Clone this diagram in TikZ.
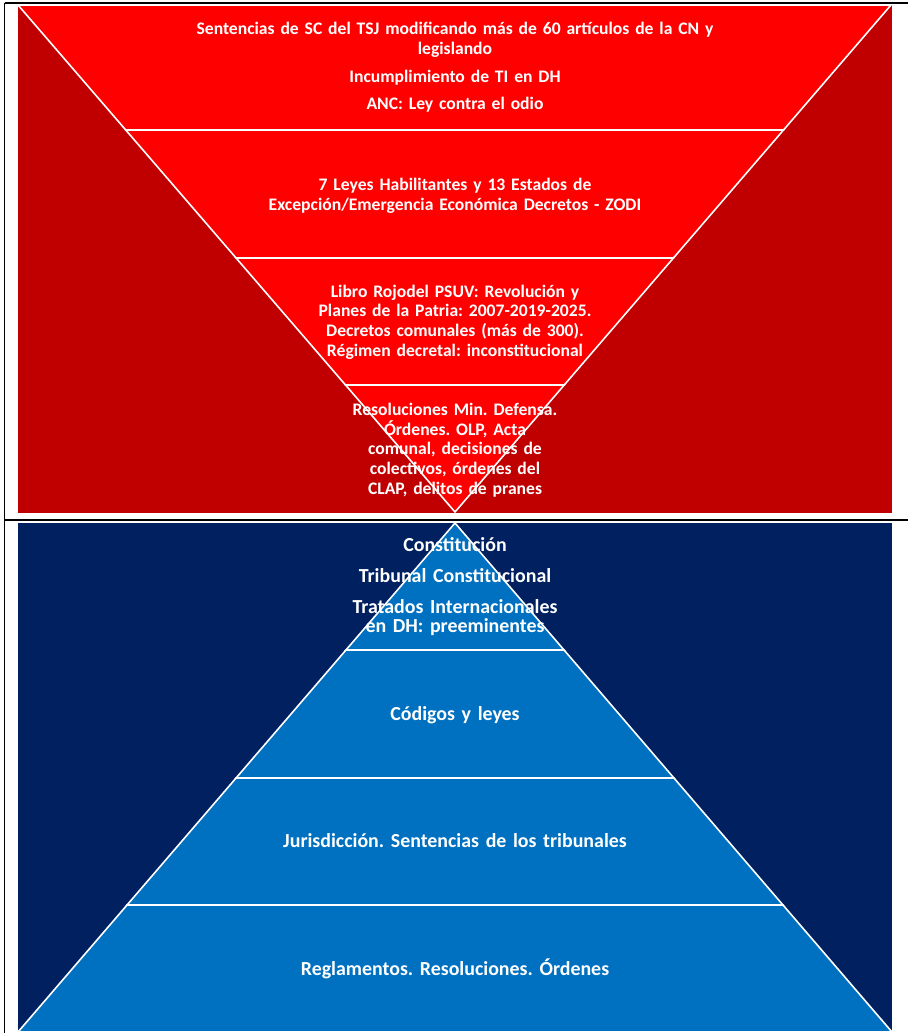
\documentclass[tikz,border=0pt]{standalone}
\usepackage{fontspec}
\setmainfont{Carlito}
\usetikzlibrary{calc}
\definecolor{redbg}{HTML}{C00000}
\definecolor{redband}{HTML}{FF0000}
\definecolor{bluebg}{HTML}{002060}
\definecolor{blueband}{HTML}{0070C0}
\tikzset{
  band/.style={line width=1.6pt, draw=white, line join=miter},
  frame/.style={line width=1.5pt, draw=black},
  lbl/.style={text=white, font=\frenchspacing\bfseries\fontsize{17.6}{19.7}\selectfont, align=center, text width=600pt, anchor=base, inner sep=0pt},
  blbl/.style={lbl, font=\frenchspacing\bfseries\fontsize{19.9}{19.6}\selectfont}
}
\begin{document}
\begin{tikzpicture}[x=1pt,y=-1pt]
\useasboundingbox (0,0) rectangle (908,1033);
\fill[white] (0,0) rectangle (908,1033);
% frame
\draw[frame] (4.5,3) -- (908,3);
\draw[frame] (4.5,3) -- (4.5,1033);
\draw[frame] (4.5,520) -- (908,520);
% ---------- red part ----------
\fill[redbg] (18,5) rectangle (892,513);
\coordinate (rtl) at (18,5);
\coordinate (rtr) at (891,5);
\coordinate (rap) at (455,512);
\coordinate (rl1) at ($(rtl)!{125/507}!(rap)$);
\coordinate (rr1) at ($(rtr)!{125/507}!(rap)$);
\coordinate (rl2) at ($(rtl)!{253/507}!(rap)$);
\coordinate (rr2) at ($(rtr)!{253/507}!(rap)$);
\coordinate (rl3) at ($(rtl)!{380/507}!(rap)$);
\coordinate (rr3) at ($(rtr)!{380/507}!(rap)$);
\filldraw[band, fill=redband] (rtl) -- (rtr) -- (rr1) -- (rl1) -- cycle;
\filldraw[band, fill=redband] (rl1) -- (rr1) -- (rr2) -- (rl2) -- cycle;
\filldraw[band, fill=redband] (rl2) -- (rr2) -- (rr3) -- (rl3) -- cycle;
\filldraw[band, fill=redband] (rl3) -- (rr3) -- (rap) -- cycle;
% ---------- blue part ----------
\fill[bluebg] (18,523) rectangle (892,1032);
\coordinate (bap) at (455,523);
\coordinate (bbl) at (18,1032);
\coordinate (bbr) at (892,1032);
\coordinate (bl1) at ($(bap)!{127/509}!(bbl)$);
\coordinate (br1) at ($(bap)!{127/509}!(bbr)$);
\coordinate (bl2) at ($(bap)!{255/509}!(bbl)$);
\coordinate (br2) at ($(bap)!{255/509}!(bbr)$);
\coordinate (bl3) at ($(bap)!{382/509}!(bbl)$);
\coordinate (br3) at ($(bap)!{382/509}!(bbr)$);
\filldraw[band, fill=blueband] (bap) -- (br1) -- (bl1) -- cycle;
\filldraw[band, fill=blueband] (bl1) -- (br1) -- (br2) -- (bl2) -- cycle;
\filldraw[band, fill=blueband] (bl2) -- (br2) -- (br3) -- (bl3) -- cycle;
\filldraw[band, fill=blueband] (bl3) -- (br3) -- (bbr) -- (bbl) -- cycle;
% ---------- texts ----------
\node[lbl] (t1a) at (455,35) {Sentencias de SC del TSJ modificando más de 60 artículos de la CN y\\legislando};
\node[lbl] (t1b) at (455,82) {Incumplimiento de TI en DH};
\node[lbl] (t1c) at (455,109.5) {ANC: Ley contra el odio};
\node[lbl] (t2) at (455,190.5) {7 Leyes Habilitantes y 13 Estados de\\Excepción/Emergencia Económica Decretos - ZODI};
\node[lbl] (t3) at (455,297) {Libro Rojodel PSUV: Revolución y\\Planes de la Patria: 2007-2019-2025.\\Decretos comunales (más de 300).\\Régimen decretal: inconstitucional};
\node[lbl] (t4) at (455,415.5) {Resoluciones Min. Defensa.\\Órdenes. OLP, Acta\\comunal, decisiones de\\colectivos, órdenes del\\CLAP, delitos de pranes};
\node[blbl] (b1a) at (455,551) {Constitución};
\node[blbl] (b1b) at (455,582) {Tribunal Constitucional};
\node[blbl] (b1c) at (455,613) {Tratados Internacionales\\en DH: preeminentes};
\node[blbl] (b2) at (455,720) {Códigos y leyes};
\node[blbl] (b3) at (455,847.5) {Jurisdicción. Sentencias de los tribunales};
\node[blbl] (b4) at (455,975) {Reglamentos. Resoluciones. Órdenes};
\end{tikzpicture}
\end{document}
